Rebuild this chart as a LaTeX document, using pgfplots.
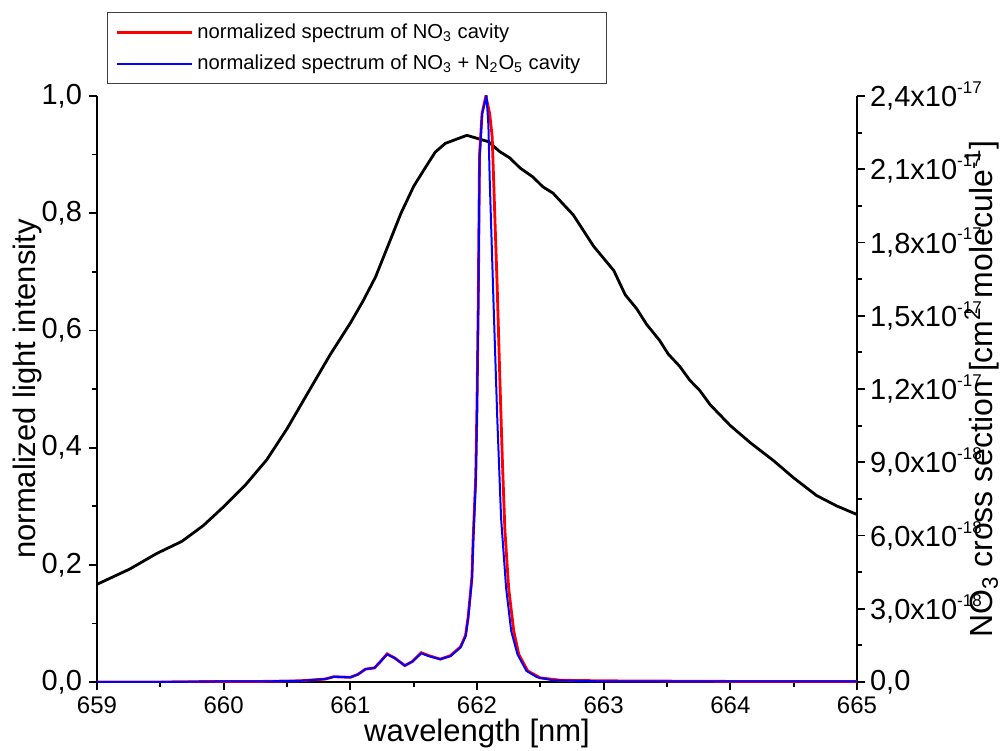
\documentclass[border=0pt]{standalone}
\usepackage{fontspec}
\setmainfont{Liberation Sans}
\usepackage{pgfplots}
\usepackage{pgfplotstable}
\pgfplotsset{compat=1.18}

% NO3 cross section, in units of 1e-18 cm^2/molecule
\pgfplotstableread{
x y
659.00 4.00
659.26 4.63
659.47 5.26
659.67 5.76
659.84 6.41
660.00 7.18
660.17 8.06
660.34 9.10
660.50 10.37
660.66 11.80
660.75 12.60
660.84 13.40
661.00 14.70
661.10 15.60
661.20 16.60
661.30 17.90
661.40 19.20
661.50 20.30
661.59 21.05
661.67 21.70
661.75 22.06
661.92 22.39
662.09 22.13
662.18 21.72
662.26 21.46
662.34 21.05
662.44 20.69
662.52 20.28
662.60 20.02
662.76 19.13
662.92 17.85
663.08 16.85
663.17 15.86
663.26 15.29
663.34 14.64
663.44 14.00
663.51 13.43
663.60 12.93
663.68 12.36
663.76 11.93
663.84 11.36
664.00 10.50
664.16 9.79
664.34 9.07
664.50 8.36
664.68 7.64
664.84 7.21
665.00 6.86
}\crosssec

\pgfplotstableread{
x y
659.00 0.000
659.50 0.000
660.00 0.001
660.30 0.001
660.60 0.002
660.80 0.005
660.87 0.009
661.00 0.008
661.06 0.013
661.12 0.022
661.19 0.024
661.23 0.033
661.29 0.048
661.35 0.041
661.43 0.028
661.49 0.035
661.56 0.050
661.62 0.045
661.71 0.039
661.79 0.045
661.87 0.060
661.91 0.080
661.93 0.111
661.96 0.179
661.97 0.247
661.99 0.350
662.00 0.475
662.01 0.650
662.02 0.900
662.04 0.970
662.07 1.000
662.10 0.970
662.12 0.930
662.14 0.800
662.16 0.670
662.18 0.520
662.20 0.380
662.22 0.260
662.25 0.160
662.29 0.087
662.33 0.047
662.40 0.019
662.50 0.007
662.66 0.003
663.00 0.002
664.00 0.001
665.00 0.001
}\nothree

\pgfplotstableread{
x y
659.00 0.000
659.50 0.000
660.00 0.001
660.30 0.001
660.60 0.002
660.80 0.005
660.87 0.009
661.00 0.008
661.06 0.013
661.12 0.022
661.19 0.024
661.23 0.033
661.29 0.047
661.35 0.041
661.43 0.028
661.49 0.035
661.56 0.049
661.62 0.044
661.71 0.039
661.79 0.044
661.87 0.059
661.91 0.078
661.93 0.108
661.96 0.175
661.97 0.240
661.99 0.340
662.00 0.460
662.01 0.640
662.02 0.890
662.04 0.970
662.075 1.000
662.09 0.950
662.10 0.860
662.12 0.720
662.13 0.650
662.16 0.450
662.19 0.280
662.23 0.160
662.27 0.087
662.32 0.047
662.39 0.019
662.475 0.008
662.60 0.003
663.00 0.001
664.00 0.001
665.00 0.001
}\nothreenfive

% small raised exponent as in the original tick labels
\newcommand{\ex}[1]{\raisebox{0.85ex}{\fontsize{8.5}{9}\selectfont #1}}

\tikzset{lbl/.style={font=\fontsize{15.5}{18}\selectfont}}
\pgfplotsset{
  base/.style={
    scale only axis, width=380pt, height=293pt,
    xmin=659, xmax=665,
    tick align=outside, major tick length=4pt, minor tick length=2.5pt,
    every tick/.style={black, line width=0.9pt},
    axis line style={line width=1pt, -},
    xticklabel style={font=\fontsize{12}{14}\selectfont},
    yticklabel style={font=\fontsize{14.5}{16}\selectfont},
  },
}

\begin{document}
\begin{tikzpicture}
% right axis: cross section
\begin{axis}[base,
  axis x line=none, axis y line*=right,
  ymin=0, ymax=24,
  ytick={0,3,6,9,12,15,18,21,24}, minor y tick num=1,
  yticklabels={{0,0},{3,0x10\ex{-18}},{6,0x10\ex{-18}},
    {9,0x10\ex{-18}},{1,2x10\ex{-17}},{1,5x10\ex{-17}},
    {1,8x10\ex{-17}},{2,1x10\ex{-17}},{2,4x10\ex{-17}}},
  yticklabel style={xshift=-1pt},
  ylabel={NO\textsubscript{3} cross section [cm\textsuperscript{2} molecule\textsuperscript{-1}]},
  every axis y label/.style={at={(rel axis cs:1,0.5)}, xshift=62.5pt, rotate=90, anchor=center,
    font=\fontsize{16}{19}\selectfont},
]
\addplot[black, line width=1.4pt] table {\crosssec};
\end{axis}
% left axis: normalized spectra
\begin{axis}[base,
  axis x line*=bottom, axis y line*=left,
  ymin=0, ymax=1,
  xtick={659,660,661,662,663,664,665}, minor x tick num=1,
  xticklabels={659,660,661,662,663,664,665},
  ytick={0,0.2,0.4,0.6,0.8,1}, minor y tick num=1,
  yticklabels={{0,0},{0,2},{0,4},{0,6},{0,8},{1,0}},
  xlabel={wavelength [nm]},
  ylabel={normalized light intensity},
  every axis x label/.style={at={(rel axis cs:0.5,0)}, yshift=-25.5pt, anchor=center, lbl},
  every axis y label/.style={at={(rel axis cs:0,0.5)}, xshift=-35pt, rotate=90, anchor=center, lbl},
  legend cell align=left,
  legend style={at={(rel axis cs:0.0132,1.1433)}, anchor=north west,
    draw=black!75, line width=0.5pt, fill=white,
    font=\fontsize{10.1}{12}\selectfont, inner xsep=4pt, inner ysep=3.5pt,
    row sep=3pt},
  legend image code/.code={\path (-15pt,0pt) -- (0pt,0pt);
    \draw[#1] (0pt,0pt) -- (22.5pt,0pt);},
]
\addplot[red, line width=1.4pt] table {\nothree};
\addlegendentry{normalized spectrum of NO\textsubscript{3} cavity}
\addplot[blue, line width=1pt] table {\nothreenfive};
\addlegendentry{normalized spectrum of NO\textsubscript{3} + N\textsubscript{2}O\textsubscript{5} cavity\hspace*{7pt}}
\end{axis}
\pgfresetboundingbox
\path[use as bounding box] (-48.5pt,-34pt) rectangle (454pt,341pt);
\end{tikzpicture}
\end{document}
